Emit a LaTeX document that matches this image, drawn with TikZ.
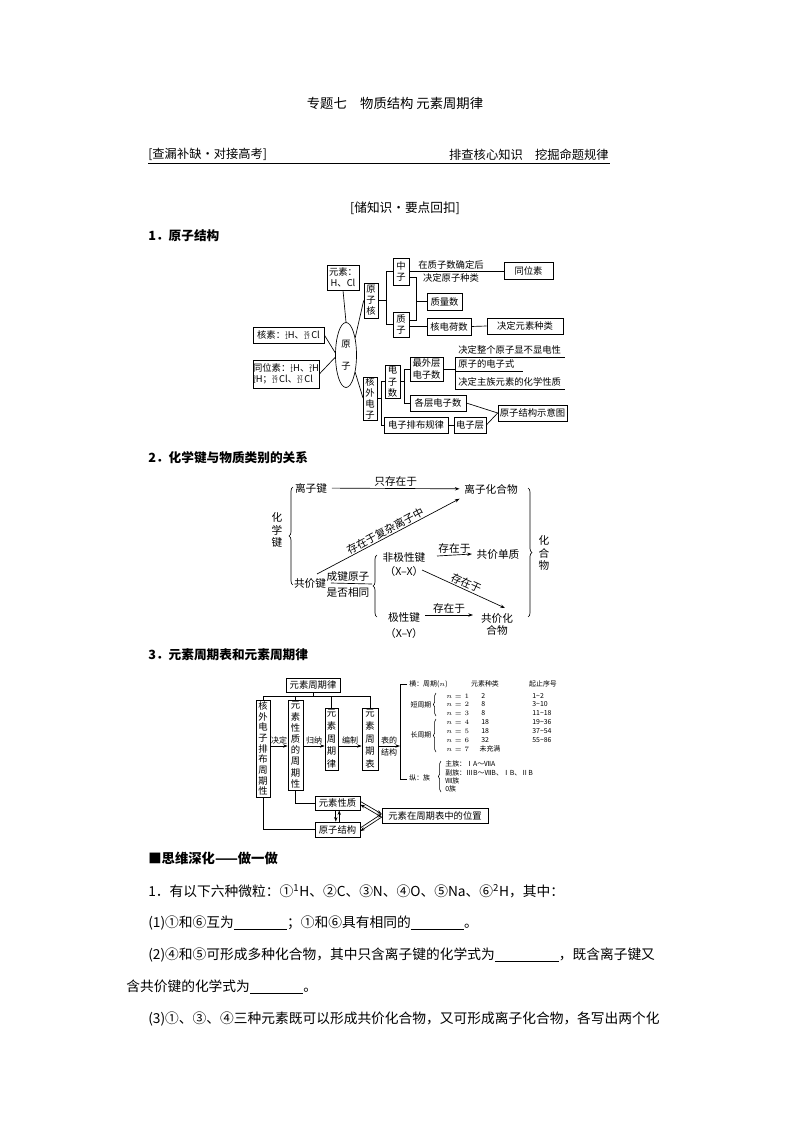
\documentclass[tikz,border=0pt]{standalone}
\usepackage{fontspec}
\setmainfont{Noto Sans CJK SC}
\usetikzlibrary{shapes.geometric,arrows.meta,decorations.pathreplacing,calc}
\newcommand\bx[7][]{\node[box,#1,minimum width={(#5-#3)*0.75pt},minimum height={(#6-#4)*0.75pt}] (#2) at ({(#3+#5)/2},{(#4+#6)/2}) {#7};}
\newcommand\iso[2]{\makebox[0pt][l]{\raisebox{2.4pt}{\fontsize{3.8}{4}\selectfont #1}}\raisebox{-0.8pt}{\fontsize{3.8}{4}\selectfont #2}}
\tikzset{
 box/.style={draw,line width=0.5pt,inner sep=0pt,align=center},
 da/.style={font=\fontsize{7}{8.4}\selectfont},
 db/.style={font=\fontsize{8}{9}\selectfont},
 dc/.style={font=\fontsize{7}{8}\selectfont},
 lab/.style={font=\fontsize{6}{7}\selectfont,inner sep=1pt},
 tiny/.style={font=\fontsize{5.2}{6}\selectfont,inner sep=0pt},
 body/.style={font=\fontsize{10.3}{12}\selectfont,anchor=west,inner sep=0pt},
 ar/.style={-{Stealth[length=3.5pt,width=2.5pt]},line width=0.5pt},
 br/.style={decorate,decoration={brace,amplitude=3pt},line width=0.5pt},
 sbr/.style={decorate,decoration={brace,amplitude=2pt},line width=0.4pt},
}
\begin{document}
\begin{tikzpicture}[x=0.75pt,y=-0.75pt,line width=0.5pt]
\useasboundingbox (0,0) rectangle (794,1123);
% header
\node[font=\fontsize{10}{12}\selectfont] (title) at (395,103) {专题七\quad 物质结构 元素周期律};
\node[font=\fontsize{9.2}{11}\selectfont,anchor=south west,inner sep=0pt] (hl) at (148,161) {[查漏补缺·对接高考]};
\node[font=\fontsize{9.2}{11}\selectfont,anchor=south east,inner sep=0pt] (hr) at (609,161) {排查核心知识\quad 挖掘命题规律};
\draw[line width=0.7pt] (hl.south west) ++(0,2) -- (610,163);
\node[font=\fontsize{9.5}{11}\selectfont] (cz) at (405,208) {[储知识·要点回扣]};
\node[font=\fontsize{9.5}{11}\selectfont\bfseries,anchor=west,inner sep=0pt] (s1) at (148,236) {1．原子结构};
% diagram 1
\begin{scope}[every node/.append style={da}]
\bx{yuansu}{327}{265}{359}{290}{元素：\\H、Cl}
\node[draw,ellipse,minimum width={21*0.75pt},minimum height={65*0.75pt},inner sep=0pt,align=center] (yz) at (346,355) {原\\[8pt]子};
\bx{hesu}{253}{327}{324}{343}{核素：\iso{1}{1}H、\iso{35}{17}\,Cl}
\bx[align=left]{tongw}{253}{360}{319}{388}{同位素：\iso{1}{1}H、\iso{2}{1}H\\\iso{3}{1}H；\iso{35}{17}\,Cl、\iso{37}{17}\,Cl}
\bx{yzh}{364}{283}{378}{318}{原\\子\\核}
\bx{zz}{393}{258}{409}{285}{中\\子}
\bx{zhiz}{393}{312}{409}{337}{质\\子}
\bx{zls}{427}{293}{462}{310}{质量数}
\bx{hdhs}{427}{318}{471}{335}{核电荷数}
\bx{jdys}{487}{318}{563}{334}{决定元素种类}
\bx{tws}{504}{262}{553}{279}{同位素}
\node[inner sep=0pt] (t1) at (451,265) {在质子数确定后};
\node[inner sep=0pt] (t2) at (451,278) {决定原子种类};
\draw (zz.east |- 0,271) -- (tws.west |- 0,271);
\draw (yzh.east) -- ++(9,0);
\draw (zz.west) -- ++(-6,0) |- (zhiz.west);
\draw (409,277) -- (416,277) -- (416,320) -- (409,320);
\draw (416,301.5) -- (zls.west);
\draw (hdhs.west -| zhiz.east) -- (hdhs.west);
\draw (hdhs.east) -- (jdys.west);
\draw (yuansu.south) -- (yz.north);
\draw (yz.62) -- (yzh.west);
\draw (hesu.east) -- (yz.168);
\draw (tongw.east) -- (yz.192);
\draw (yz.298) -- (363,398);
\bx{hwdz}{363}{377}{377}{420}{核\\外\\电\\子}
\bx{dzs}{385}{365}{400}{398}{电\\子\\数}
\bx{zwc}{410}{357}{443}{381}{最外层\\电子数}
\bx{gcdzs}{410}{395}{466}{411}{各层电子数}
\bx{dzpb}{384}{417}{448}{433}{电子排布规律}
\bx{dzc}{454}{417}{486}{433}{电子层}
\bx{yzjg}{498}{405}{567}{421}{原子结构示意图}
\draw (hwdz.east) -- ++(5,0);
\draw (dzs.west) -- ++(-3,0) |- (dzpb.west);
\draw (dzs.east) -- ++(5,0);
\draw (zwc.west) -- ++(-5,0) |- (gcdzs.west);
\draw (zwc.east) -- ++(12,0);
\draw (455,357) -- (455,389);
\draw (455,357) -- (565,357);
\draw (455,371) -- (523,371);
\draw (455,389) -- (565,389);
\node[anchor=west,inner sep=0pt] (e1) at (458,350) {决定整个原子显不显电性};
\node[anchor=west,inner sep=0pt] (e2) at (458,364) {原子的电子式};
\node[anchor=west,inner sep=0pt] (e3) at (458,382) {决定主族元素的化学性质};
\draw (gcdzs.east) -- (yzjg.west);
\draw (dzpb.east) -- (dzc.west);
\draw (dzc.east) -- (yzjg.west);
\end{scope}
% diagram 2
\node[font=\fontsize{9.5}{11}\selectfont\bfseries,anchor=west,inner sep=0pt] (s2) at (148,458) {2．化学键与物质类别的关系};
\begin{scope}[every node/.append style={db}]
\node (lzj) at (311,488) {离子键};
\node (lzh) at (491,489) {离子化合物};
\node (gjj) at (310,583) {共价键};
\draw[ar] (lzj) -- (lzh) node[midway,above,inner sep=1pt] {只存在于};
\draw[br] (293,585) -- (293,487);
\node[align=center,font=\fontsize{8}{9.5}\selectfont] (hxj) at (277,530) {化\\学\\键};
\draw[ar] (317,574) -- (lzh.south west) node[midway,sloped,above,inner sep=1pt] {存在于复杂离子中};
\node (cj) at (348,576) {成键原子};
\node (sf) at (348,592) {是否相同};
\draw (gjj.east) -- (372,584);
\draw[br] (377,617) -- (377,555);
\node (fjx) at (404,557) {非极性键};
\node (xx) at (404,571) {（X–X）};
\node (jx) at (404,617) {极性键};
\node (xy) at (404,633) {（X–Y）};
\node (gjdz) at (498,554) {共价单质};
\node[align=center] (gjh) at (497,624) {共价化\\合物};
\draw[ar] (437,556) -- (gjdz.west) node[midway,above,inner sep=1pt] {存在于};
\draw[ar] (422,570) -- (505,608) node[midway,sloped,above,inner sep=1pt] {存在于};
\draw[ar] (425,615) -- (473,615) node[midway,above,inner sep=1pt] {存在于};
\draw[br] (528,488) -- (528,617);
\node[align=center,font=\fontsize{8}{9.5}\selectfont] (hhw) at (544,553) {化\\合\\物};
\end{scope}
% diagram 3
\node[font=\fontsize{9.5}{11}\selectfont\bfseries,anchor=west,inner sep=0pt] (s3) at (148,655) {3．元素周期表和元素周期律};
\begin{scope}[every node/.append style={dc}]
\bx{zqlbox}{286}{678}{340}{692}{元素周期律}
\bx{hw}{256}{700}{270}{797}{核\\外\\电\\子\\排\\布\\周\\期\\性}
\bx[font=\fontsize{7}{8.4}\selectfont]{xz}{288}{700}{303}{790}{元\\素\\性\\质\\的\\周\\期\\性}
\bx[font=\fontsize{7}{9.5}\selectfont]{zql}{325}{708}{338}{770}{元\\素\\周\\期\\律}
\bx[font=\fontsize{7}{9.5}\selectfont]{zqb}{362}{708}{378}{770}{元\\素\\周\\期\\表}
\draw (zqlbox.south) -- ++(0,5);
\draw (hw.north) |- ($(zqb.north)+(0,-11)$) -- (zqb.north);
\draw (xz.north) -- ++(0,-3);
\draw (zql.north) -- ++(0,-11);
\draw[ar] (hw.east |- 0,746) -- (xz.west |- 0,746) node[midway,above,lab] {决定};
\draw[ar] (xz.east |- 0,746) -- (zql.west |- 0,746) node[midway,above,lab] {归纳};
\draw[ar] (zql.east |- 0,746) -- (zqb.west |- 0,746) node[midway,above,lab] {编制};
\draw[ar] (zqb.east |- 0,746) -- (400,746);
\node[lab] (bd) at (389,740) {表的};
\node[lab] (jg) at (389,752) {结构};
\draw (407,684) -- (400,684) -- (400,779) -- (407,779);
\node[tiny,anchor=west] (heng) at (409,684) {横：周期($n$)};
\node[tiny] (h2) at (485,684) {元素种类};
\node[tiny] (h3) at (543,684) {起止序号};
\node[tiny] (dzq) at (421,705) {短周期};
\draw[sbr] (436,716) -- (436,693);
\node[tiny] (czq) at (421,735) {长周期};
\draw[sbr] (436,752) -- (436,719);
\foreach \n/\y/\a/\b in {1/696/2/1\textasciitilde 2,2/704/8/3\textasciitilde 10,3/713/8/11\textasciitilde 18,4/722/18/19\textasciitilde 36,5/731/18/37\textasciitilde 54,6/740/32/55\textasciitilde 86}{
 \node[tiny,anchor=west] (n\n) at (446,\y) {$n=\n$};
 \node[tiny,anchor=west] (a\n) at (481,\y) {\a};
 \node[tiny,anchor=west] (b\n) at (532,\y) {\b};
}
\node[tiny,anchor=west] (n7) at (446,749) {$n=7$};
\node[tiny] (wcm) at (490,749) {未充满};
\node[tiny,anchor=west] (zong) at (409,778) {纵：族};
\draw[sbr] (441,792) -- (441,761);
\node[tiny,anchor=west] (z1) at (445,764) {主族：ⅠA～ⅦA};
\node[tiny,anchor=west] (z2) at (445,772.5) {副族：ⅢB～ⅦB、ⅠB、ⅡB};
\node[tiny,anchor=west] (z3) at (445,781) {Ⅷ族};
\node[tiny,anchor=west] (z4) at (445,789) {0族};
\bx{xzbox}{315}{796}{360}{810}{元素性质}
\bx{jgbox}{315}{822}{360}{837}{原子结构}
\bx{wz}{382}{808}{488}{823}{元素在周期表中的位置}
\draw (xz.south) |- (xzbox.west);
\draw (hw.south) |- (jgbox.west);
\draw[ar] ([yshift=1.2pt]xzbox.east) -- ([yshift=1.2pt]wz.west);
\draw[ar] ([yshift=-1.2pt]wz.west) -- ([yshift=-1.2pt]xzbox.east);
\draw[ar] ([yshift=1.2pt]jgbox.east) -- ([yshift=1.2pt]wz.west);
\draw[ar] ([yshift=-1.2pt]wz.west) -- ([yshift=-1.2pt]jgbox.east);
\draw[ar] ([xshift=-1.3pt]xzbox.south) -- ([xshift=-1.3pt]jgbox.north);
\draw[ar] ([xshift=1.3pt]jgbox.north) -- ([xshift=1.3pt]xzbox.south);
\end{scope}
% text section
\node[body,font=\fontsize{10}{12}\selectfont\bfseries] (sw) at (148,858) {■思维深化——做一做};
\node[body] (q1) at (148,891) {1．有以下六种微粒：①\textsuperscript{1}H、②C、③N、④O、⑤Na、⑥\textsuperscript{2}H，其中：};
\node[body] (q2) at (148,923) {(1)①和⑥互为\underline{\hspace{40pt}}；①和⑥具有相同的\underline{\hspace{40pt}}。};
\node[body] (q3) at (148,955) {(2)④和⑤可形成多种化合物，其中只含离子键的化学式为\underline{\hspace{48pt}}，既含离子键又};
\node[body] (q4) at (126,987) {含共价键的化学式为\underline{\hspace{40pt}}。};
\node[body] (q5) at (148,1019) {(3)①、③、④三种元素既可以形成共价化合物，又可形成离子化合物，各写出两个化};
\end{tikzpicture}
\end{document}
